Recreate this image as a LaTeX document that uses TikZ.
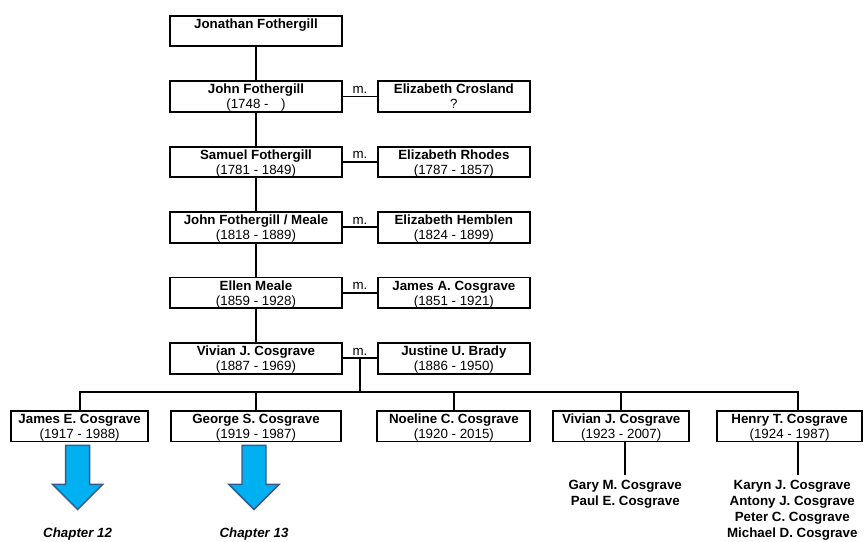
\documentclass[tikz,border=0pt]{standalone}
\usepackage{fontspec}
\setmainfont{Liberation Sans}
\usetikzlibrary{positioning,calc}
\definecolor{arrowfill}{RGB}{0,176,240}
\definecolor{arrowline}{RGB}{58,90,140}
\newcommand{\who}[2]{\raisebox{0pt}[7.2pt][0pt]{\textbf{#1}}\\\raisebox{0pt}[\height][0pt]{#2}}

\begin{document}
\begin{tikzpicture}[x=0.75pt,y=-0.75pt,line width=1.4pt,
    every node/.style={font=\fontsize{10}{11.3}\selectfont},
    person/.style={draw,align=center,inner sep=0pt,minimum height=23pt,minimum width=#1},
    kids/.style={align=center,inner sep=3pt,font=\fontsize{10}{12}\selectfont\bfseries},
    chapter/.style={inner sep=0pt,font=\fontsize{10}{12}\selectfont\bfseries\itshape},
    chapterarrow/.style={draw=arrowline,fill=arrowfill,line width=1.1pt,line join=miter}]
  \useasboundingbox (0,0) rectangle (865,542);

  \node[person=129pt] (jonathan) at (256,31) {\who{Jonathan Fothergill}{~}};
  \node[person=129pt, below=24.7pt of jonathan] (john) {\who{John Fothergill}{(1748 -\hspace{0.95em})}};
  \node[person=129pt, below=24.7pt of john] (samuel) {\who{Samuel Fothergill}{(1781 - 1849)}};
  \node[person=129pt, below=24.7pt of samuel] (johnm) {\who{John Fothergill / Meale}{(1818 - 1889)}};
  \node[person=129pt, below=24.7pt of johnm] (ellen) {\who{Ellen Meale}{(1859 - 1928)}};
  \node[person=129pt, below=24.7pt of ellen] (vivian) {\who{Vivian J. Cosgrave}{(1887 - 1969)}};

  \node[person=114pt, right=25.5pt of john] (crosland) {\who{Elizabeth Crosland}{?}};
  \node[person=114pt, right=25.5pt of samuel] (rhodes) {\who{Elizabeth Rhodes}{(1787 - 1857)}};
  \node[person=114pt, right=25.5pt of johnm] (hemblen) {\who{Elizabeth Hemblen}{(1824 - 1899)}};
  \node[person=114pt, right=25.5pt of ellen] (jamesa) {\who{James A. Cosgrave}{(1851 - 1921)}};
  \node[person=114pt, right=25.5pt of vivian] (justine) {\who{Justine U. Brady}{(1886 - 1950)}};

  \node[person=127.5pt, below=26.5pt of vivian] (george) {\who{George S. Cosgrave}{(1919 - 1987)}};
  \node[person=102.75pt, left=15.75pt of george] (james) {\who{James E. Cosgrave}{(1917 - 1988)}};
  \node[person=114.75pt, below=26.5pt of justine] (noeline) {\who{Noeline C. Cosgrave}{(1920 - 2015)}};
  \node[person=102pt, right=15.75pt of noeline] (vivianc) {\who{Vivian J. Cosgrave}{(1923 - 2007)}};
  \node[person=108.75pt, right=19.5pt of vivianc] (henry) {\who{Henry T. Cosgrave}{(1924 - 1987)}};

  \node[kids, below=24.5pt of vivianc, xshift=3pt] (vkids) {Gary M. Cosgrave\\Paul E. Cosgrave};
  \node[kids, below=24.5pt of henry, xshift=2pt] (hkids) {Karyn J. Cosgrave\\Antony J. Cosgrave\\Peter C. Cosgrave\\Michael D. Cosgrave};

  \foreach \a/\b in {jonathan/john, john/samuel, samuel/johnm, johnm/ellen, ellen/vivian}
    \draw (\a) -- (\b);
  \foreach \a/\b in {john/crosland, samuel/rhodes, johnm/hemblen, ellen/jamesa, vivian/justine}
    \draw (\a) -- node[above, inner sep=1.6pt] {m.} (\b);

  \coordinate (vj) at ($(vivian.east)!.5!(justine.west)$);
  \coordinate (bar) at ($(vivian.south)!.5!(george.north)$);
  \coordinate (hx) at ([xshift=6.4pt]henry.north);
  \draw (vj) -- (vj |- bar);
  \draw (james.north) |- (bar) -| (hx);
  \foreach \c in {george, noeline, vivianc}
    \draw (\c.north) -- (\c.north |- bar);
  \draw (vivianc.south -| vkids.north) -- (vkids.north);
  \draw (hx |- henry.south) -- (hx |- hkids.north);

  \foreach \c/\n in {james/12, george/13} {
    \draw[chapterarrow] ($(\c.south)+(-14,3)$) -- ++(24,0) -- ++(0,39) -- ++(13,0)
      -- ++(-25,25) -- ++(-25,-25) -- ++(13,0) -- cycle;
    \node[chapter, below=63.5pt of \c, xshift=-1.5pt] (ch\n) {Chapter \n};
  }
\end{tikzpicture}
\end{document}
